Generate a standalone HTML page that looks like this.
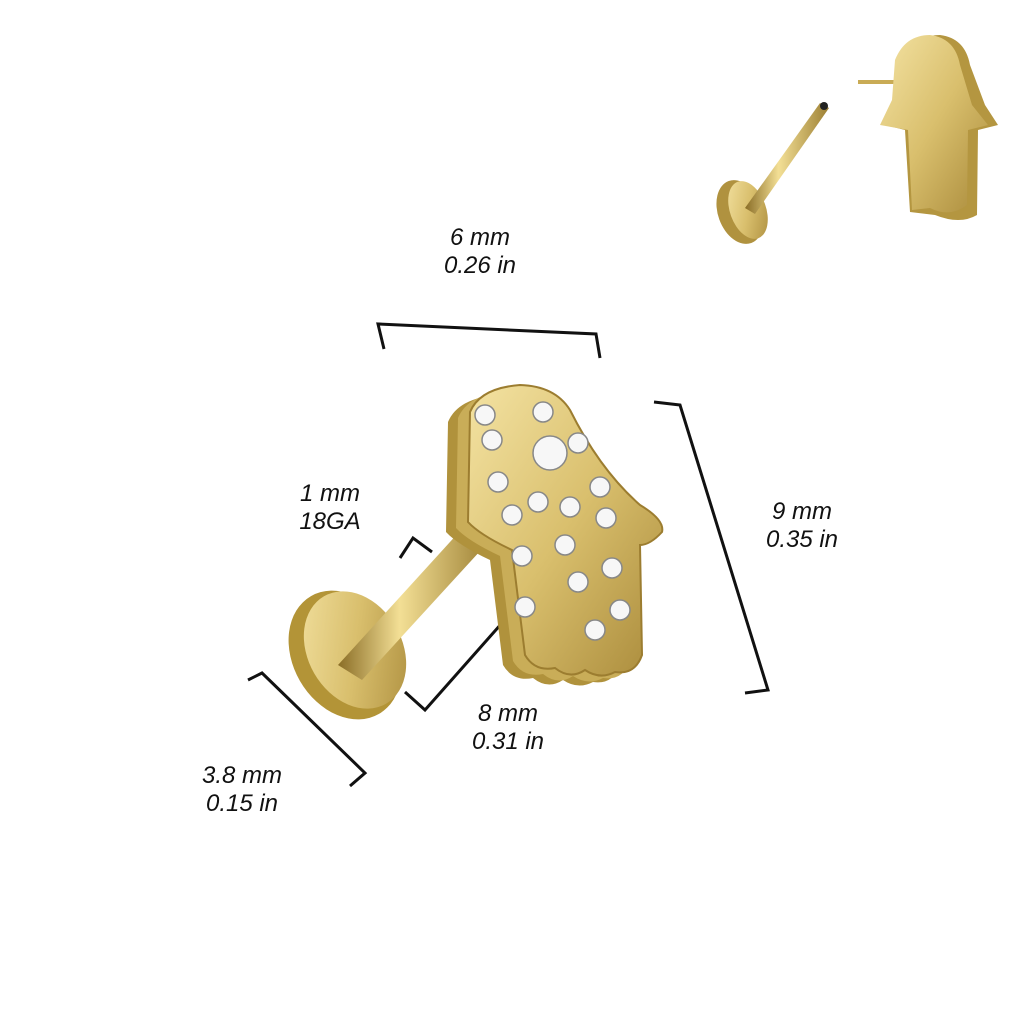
<!DOCTYPE html>
<html><head><style>
body{margin:0;background:#fff;width:1024px;height:1024px;overflow:hidden}
.t{position:absolute;font-family:"Liberation Sans",sans-serif;font-style:italic;font-size:24px;color:#111;line-height:28px;text-align:center}
</style></head><body>
<svg width="1024" height="1024" style="position:absolute;left:0;top:0">
<defs>
<linearGradient id="g" x1="0" y1="0" x2="1" y2="1">
<stop offset="0" stop-color="#f4e3a3"/><stop offset="0.5" stop-color="#d9bf6d"/><stop offset="1" stop-color="#a98a3a"/></linearGradient>
<linearGradient id="p" x1="0" y1="0" x2="1" y2="0">
<stop offset="0" stop-color="#8a6d26"/><stop offset="0.4" stop-color="#f3df95"/><stop offset="1" stop-color="#9c7f33"/></linearGradient>
<path id="hand" d="M470,412 Q480,388 520,385 Q555,386 570,410 Q600,470 640,505 Q665,520 662,532 Q650,545 640,545 L642,655 Q635,675 615,672 Q600,680 585,670 Q570,680 555,668 Q535,672 525,655 L512,550 Q480,535 468,522 Z"/>
</defs>
<g fill="none" stroke="#111" stroke-width="3">
<polyline points="384,349 378,324 596,334 600,358"/>
<polyline points="654,402 680,405 768,690 745,693"/>
<polyline points="248,680 262,673 365,773 350,786"/>
<polyline points="502,623 425,710 405,692"/>
<polyline points="400,558 413,538 432,552"/>
<polyline points="428,593 444,576"/>
</g>
<ellipse cx="345" cy="655" rx="52" ry="68" transform="rotate(-30 345 655)" fill="#b39437"/>
<ellipse cx="355" cy="650" rx="47" ry="62" transform="rotate(-30 355 650)" fill="url(#g)"/>
<polygon points="338,665 470,520 492,538 362,680" fill="url(#p)"/>
<use href="#hand" transform="translate(-22,10)" fill="#b0923c"/>
<use href="#hand" transform="translate(-12,6)" fill="#c9ad58"/>
<use href="#hand" fill="url(#g)" stroke="#9c7d30" stroke-width="2"/>
<g fill="#f7f7f7" stroke="#888" stroke-width="1.5">
<circle cx="485" cy="415" r="10"/><circle cx="543" cy="412" r="10"/><circle cx="492" cy="440" r="10"/><circle cx="578" cy="443" r="10"/>
<circle cx="550" cy="453" r="17"/><circle cx="498" cy="482" r="10"/><circle cx="538" cy="502" r="10"/><circle cx="600" cy="487" r="10"/>
<circle cx="512" cy="515" r="10"/><circle cx="570" cy="507" r="10"/><circle cx="606" cy="518" r="10"/><circle cx="565" cy="545" r="10"/>
<circle cx="612" cy="568" r="10"/><circle cx="522" cy="556" r="10"/><circle cx="578" cy="582" r="10"/><circle cx="525" cy="607" r="10"/>
<circle cx="620" cy="610" r="10"/><circle cx="595" cy="630" r="10"/>
</g>
<ellipse cx="740" cy="212" rx="22" ry="33" transform="rotate(-20 740 212)" fill="#b0923f"/>
<ellipse cx="748" cy="210" rx="18" ry="30" transform="rotate(-20 748 210)" fill="url(#g)"/>
<polygon points="745,208 820,103 829,108 755,214" fill="url(#p)"/>
<circle cx="824" cy="106" r="4" fill="#222"/>
<rect x="858" y="80" width="40" height="4" fill="#c9ab55"/>
<path d="M905,60 Q915,35 940,35 Q965,38 970,65 L985,105 L998,125 L978,130 L977,215 Q960,225 935,215 L910,212 L905,130 L885,125 L900,100 Z" fill="#b49640"/>
<path d="M895,60 Q905,35 930,35 Q955,38 960,65 L972,105 L988,125 L968,130 L967,205 Q950,218 930,208 L912,210 L908,130 L880,125 L892,100 Z" fill="url(#g)"/>
</svg>
<div class="t" style="left:420px;top:224px;width:120px">6 mm<br>0.26 in</div>
<div class="t" style="left:742px;top:498px;width:120px">9 mm<br>0.35 in</div>
<div class="t" style="left:280px;top:480px;width:100px">1 mm<br>18GA</div>
<div class="t" style="left:448px;top:700px;width:120px">8 mm<br>0.31 in</div>
<div class="t" style="left:182px;top:762px;width:120px">3.8 mm<br>0.15 in</div>
</body></html>
